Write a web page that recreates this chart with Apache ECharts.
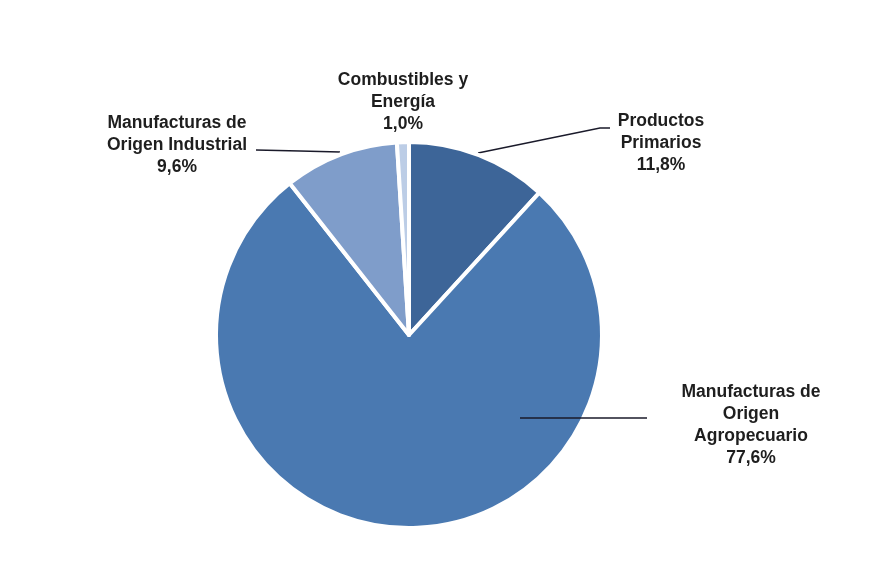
<!DOCTYPE html>
<html>
<head>
<meta charset="utf-8">
<script src="https://cdn.jsdelivr.net/npm/echarts@6/dist/echarts.min.js"></script>
<style>html,body{margin:0;padding:0;background:#fff;}#c{width:870px;height:580px;}</style>
</head>
<body>
<div id="c"></div>
<script>
const categories = ['Productos\nPrimarios', 'Manufacturas de\nOrigen\nAgropecuario', 'Manufacturas de\nOrigen Industrial', 'Combustibles y\nEnergía'];
const values = [11.8, 77.6, 9.6, 1.0];
const colors = ['#3d6598', '#4a79b1', '#7f9dca', '#bccde6'];

const labelCenters = [[661, 143], [751, 425], [177, 145], [403, 102]];
const labelLines = [
  [[478, 153], [600, 128], [610, 128]],
  null,
  [[340, 152], [300, 151], [256, 150]],
  null
];
const agroLine = [[520, 418], [647, 418]];

const chart = echarts.init(document.getElementById('c'));
chart.setOption({
  animation: false,
  graphic: [{
    type: 'polyline',
    z: 100,
    shape: { points: agroLine },
    style: { stroke: '#1a1a2a', lineWidth: 1.3, fill: null }
  }],
  series: [{
    type: 'pie',
    center: [409, 335],
    radius: 193,
    startAngle: 90,
    clockwise: true,
    data: categories.map((n, i) => ({
      name: n, value: values[i],
      itemStyle: { color: colors[i] },
      labelLine: { show: labelLines[i] !== null }
    })),
    itemStyle: { borderColor: '#fff', borderWidth: 4 },
    label: {
      show: true,
      position: 'outside',
      formatter: p => p.name + '\n' + p.value.toFixed(1).replace('.', ',') + '%',
      fontFamily: 'Liberation Sans, Arial, sans-serif',
      fontWeight: 'bold',
      fontSize: 17.5,
      lineHeight: 22,
      color: '#1e1e1e',
      align: 'center'
    },
    labelLine: { show: true, lineStyle: { color: '#1a1a2a', width: 1.3 } },
    labelLayout: function (params) {
      const i = params.dataIndex;
      const out = { x: labelCenters[i][0], y: labelCenters[i][1], align: 'center', verticalAlign: 'middle' };
      if (labelLines[i]) out.labelLinePoints = labelLines[i];
      return out;
    },
    emphasis: { disabled: true }
  }]
});
</script>
</body>
</html>
